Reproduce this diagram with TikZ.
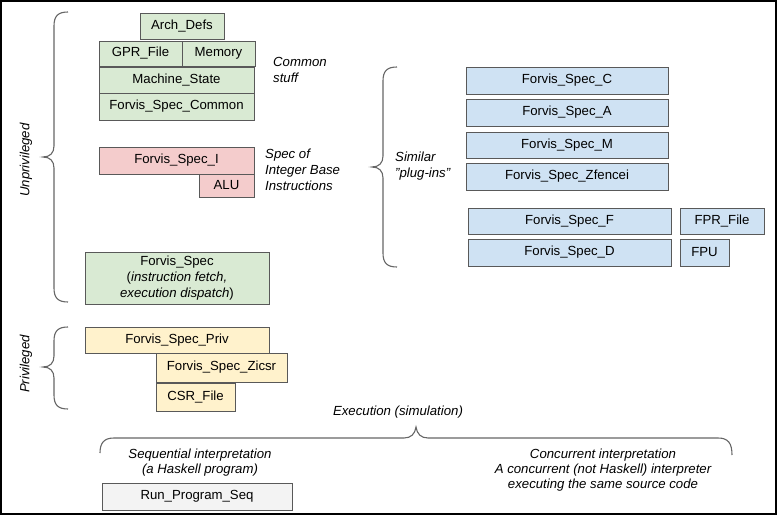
\documentclass[tikz,border=0pt]{standalone}
\usepackage{fontspec}
\setmainfont{Liberation Sans}
\definecolor{gfill}{HTML}{D9EAD3}
\definecolor{rfill}{HTML}{F4CCCC}
\definecolor{bfill}{HTML}{CFE2F3}
\definecolor{yfill}{HTML}{FFF2CC}
\definecolor{kfill}{HTML}{F3F3F3}
\definecolor{boxline}{HTML}{595959}
\definecolor{braceline}{HTML}{666666}
\begin{document}
\begin{tikzpicture}[x=1bp,y=-1bp,
  every node/.style={font=\fontsize{13.2bp}{16bp}\selectfont},
  box/.style={draw=boxline, line width=0.8bp, inner sep=0pt, align=center},
  lbl/.style={font=\fontsize{13.2bp}{16bp}\selectfont\itshape, inner sep=0pt, align=left, anchor=west},
  clbl/.style={font=\fontsize{13.2bp}{15bp}\selectfont\itshape, inner sep=0pt, align=center},
  brace/.style={draw=braceline, line width=1.1bp}]
\useasboundingbox (0,0) rectangle (777,515);
\draw[black, line width=1.6bp] (0.8,0.8) rectangle (776.2,514.2);

% common stuff
\node[box, fill=gfill, minimum width=84bp, minimum height=26bp] (arch) at (182,26) {Arch\_Defs};
\node[box, fill=gfill, minimum width=83bp, minimum height=25bp] (gpr) at (140.5,53.5) {GPR\_File};
\node[box, fill=gfill, minimum width=73bp, minimum height=25bp] (mem) at (218.5,53.5) {Memory};
\node[box, fill=gfill, minimum width=155bp, minimum height=26bp] (mstate) at (176.5,80) {Machine\_State};
\node[box, fill=gfill, minimum width=155bp, minimum height=27bp] (common) at (176.5,106.5) {Forvis\_Spec\_Common};
\node[lbl] (commonlbl) at (273,70) {Common\\stuff};

% integer base
\node[box, fill=rfill, minimum width=155bp, minimum height=27bp] (specI) at (176.5,160.5) {Forvis\_Spec\_I};
\node[box, fill=rfill, minimum width=55bp, minimum height=23bp] (alu) at (226.5,185.5) {ALU};
\node[lbl] (ilbl) at (265,170) {Spec of\\Integer Base\\Instructions};

% main spec
\node[box, fill=gfill, minimum width=184bp, minimum height=52bp] (spec) at (177,278) {Forvis\_Spec\\(\textit{instruction fetch,}\\\textit{execution dispatch})};

% privileged
\node[box, fill=yfill, minimum width=184bp, minimum height=26bp] (priv) at (177,340) {Forvis\_Spec\_Priv};
\node[box, fill=yfill, minimum width=131bp, minimum height=29bp] (zicsr) at (221.5,367.5) {Forvis\_Spec\_Zicsr};
\node[box, fill=yfill, minimum width=79bp, minimum height=28bp] (csr) at (195.5,397) {CSR\_File};

% plug-ins
\node[box, fill=bfill, minimum width=202bp, minimum height=27bp] (specC) at (567,80.5) {Forvis\_Spec\_C};
\node[box, fill=bfill, minimum width=202bp, minimum height=27bp] (specA) at (567,112.5) {Forvis\_Spec\_A};
\node[box, fill=bfill, minimum width=202bp, minimum height=26bp] (specM) at (567,145) {Forvis\_Spec\_M};
\node[box, fill=bfill, minimum width=202bp, minimum height=27bp] (specZ) at (567,176.5) {Forvis\_Spec\_Zfencei};
\node[box, fill=bfill, minimum width=203bp, minimum height=26bp] (specF) at (569.5,221) {Forvis\_Spec\_F};
\node[box, fill=bfill, minimum width=203bp, minimum height=27bp] (specD) at (569.5,252.5) {Forvis\_Spec\_D};
\node[box, fill=bfill, minimum width=84bp, minimum height=26bp] (fpr) at (722,221) {FPR\_File};
\node[box, fill=bfill, minimum width=49bp, minimum height=27bp] (fpu) at (704.5,252.5) {FPU};
\node[lbl] (simlbl) at (395,166) {Similar\\{\char"22}plug-ins{\char"22}};

% side labels
\node[font=\fontsize{13.2bp}{16bp}\selectfont\itshape, rotate=90, inner sep=0pt] (unpriv) at (26,160) {Unprivileged};
\node[font=\fontsize{13.2bp}{16bp}\selectfont\itshape, rotate=90, inner sep=0pt] (privlbl) at (26,364) {Privileged};

% braces
\draw[brace] (68,12) .. controls (58,12) and (54,16) .. (54,26) -- (54,146)
  .. controls (54,153) and (50,157) .. (43,157) .. controls (50,157) and (54,161) .. (54,168)
  -- (54,288) .. controls (54,298) and (58,302) .. (68,302);
\draw[brace] (68,327) .. controls (58,327) and (54,331) .. (54,341) -- (54,356)
  .. controls (54,363) and (50,367) .. (43,367) .. controls (50,367) and (54,371) .. (54,378)
  -- (54,395) .. controls (54,405) and (58,409) .. (68,409);
\draw[brace] (397,67) .. controls (387,67) and (383,71) .. (383,81) -- (383,156)
  .. controls (383,163) and (379,167) .. (372,167) .. controls (379,167) and (383,171) .. (383,178)
  -- (383,253) .. controls (383,263) and (387,267) .. (397,267);
\draw[brace] (100,453) .. controls (100,443) and (104,438) .. (114,438) -- (404,438)
  .. controls (411,438) and (415,434) .. (416,427) .. controls (417,434) and (421,438) .. (428,438)
  -- (718,438) .. controls (728,438) and (732,443) .. (732,455);

% execution
\node[clbl] (exec) at (398,412) {Execution (simulation)};
\node[clbl] (seq) at (200,462.5) {Sequential interpretation\\(a Haskell program)};
\node[clbl] (conc) at (603,470) {Concurrent interpretation\\A concurrent (not Haskell) interpreter\\executing the same source code};
\node[box, fill=kfill, minimum width=190bp, minimum height=27bp] (run) at (197,496.5) {Run\_Program\_Seq};
\end{tikzpicture}
\end{document}
